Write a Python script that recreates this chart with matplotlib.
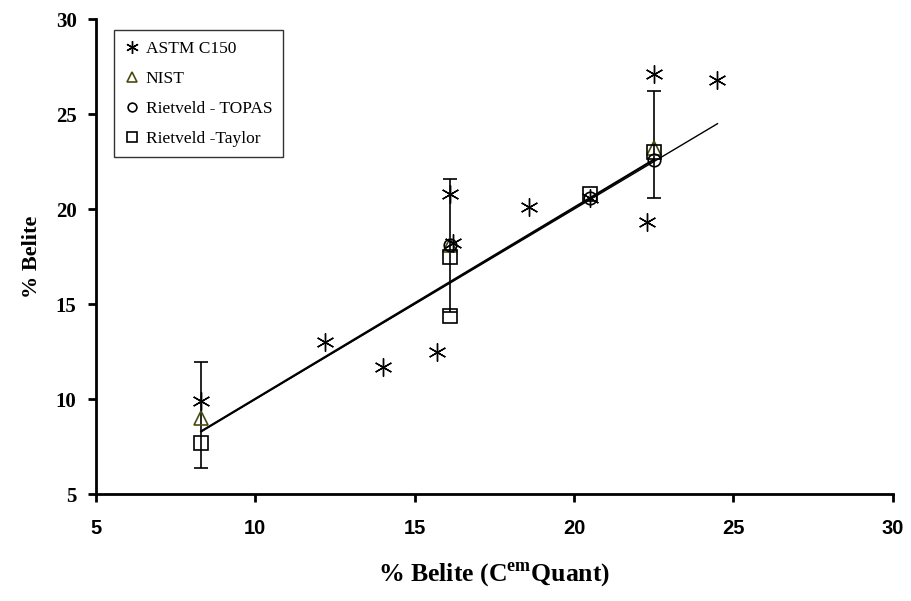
import matplotlib
matplotlib.use("Agg")
import matplotlib.pyplot as plt
import numpy as np

# ASTM C150 (Bogue) estimates
astm_x = [8.3, 12.2, 14.0, 15.7, 16.2, 16.1, 18.6, 20.5, 22.3, 22.5, 24.5]
astm_y = [9.9, 13.0, 11.7, 12.5, 18.2, 20.8, 20.1, 20.6, 19.3, 27.1, 26.8]

# NIST values
nist_x = [8.3, 16.1, 22.5]
nist_y = [9.0, 18.1, 23.2]

# Rietveld - TOPAS
topas_x = [16.1, 20.5, 22.5]
topas_y = [18.1, 20.6, 22.6]

# Rietveld - Taylor
taylor_x = [8.3, 16.1, 16.1, 20.5, 22.5]
taylor_y = [7.7, 17.5, 14.4, 20.8, 23.0]

# error bars
err_x = [8.3, 16.1, 22.5]
err_y = [9.15, 18.1, 23.4]
err_d = [2.8, 3.5, 2.8]

# trend lines
fit1_x = [8.3, 22.5]
fit1_y = [8.3, 22.6]
fit2_x = [8.3, 24.5]
fit2_y = [8.3, 24.5]

serif = ['Liberation Serif', 'DejaVu Serif']
narrow = ['Liberation Sans Narrow', 'Liberation Sans', 'DejaVu Sans']

plt.rcParams['mathtext.fontset'] = 'custom'
plt.rcParams['mathtext.rm'] = 'Liberation Serif:bold'
plt.rcParams['mathtext.bf'] = 'Liberation Serif:bold'

fig = plt.figure(figsize=(9.11, 6.01), dpi=100)
ax = fig.add_axes([0.1054, 0.178, 0.8746, 0.79])

ax.plot(fit1_x, fit1_y, color='black', lw=1.6, zorder=2)
ax.plot(fit2_x, fit2_y, color='black', lw=1.0, zorder=2)
ax.errorbar(err_x, err_y, yerr=err_d, fmt='none', ecolor='black',
            elinewidth=1.2, capsize=5, capthick=1.2, zorder=3)

ax.plot(astm_x, astm_y, ls='none', marker=(6, 2, 0), ms=13, mew=1.0,
        color='black', label='ASTM C150', zorder=5)
ax.plot(nist_x, nist_y, ls='none', marker='^', ms=10, mew=1.2,
        mfc='none', mec='#4a4a10', label='NIST', zorder=4)
ax.plot(topas_x, topas_y, ls='none', marker='o', ms=9, mew=1.2,
        mfc='none', mec='black', label='Rietveld - TOPAS', zorder=4)
ax.plot(taylor_x, taylor_y, ls='none', marker='s', ms=10, mew=1.2,
        mfc='none', mec='black', label='Rietveld -Taylor', zorder=4)

ax.set_xlim(5, 30)
ax.set_ylim(5, 30)
ax.set_xticks(np.arange(5, 31, 5))
ax.set_yticks(np.arange(5, 31, 5))
for s in ['top', 'right']:
    ax.spines[s].set_visible(False)
for s in ['left', 'bottom']:
    ax.spines[s].set_linewidth(2)
ax.tick_params(direction='out', length=6, width=2, pad=12)
ax.tick_params(axis='y', pad=8)

for t in ax.get_xticklabels():
    t.set_fontfamily(narrow)
    t.set_fontweight('bold')
    t.set_fontsize(14.5)
for t in ax.get_yticklabels():
    t.set_fontfamily(serif)
    t.set_fontweight('bold')
    t.set_fontsize(15)

ax.set_ylabel('% Belite', fontfamily=serif, fontweight='bold', fontsize=16, labelpad=10)
ax.set_xlabel('% Belite (C$^{\\mathbf{em}}$Quant)', fontfamily=serif,
              fontweight='bold', fontsize=18.5, labelpad=16)

leg = ax.legend(loc='upper left', bbox_to_anchor=(0.012, 0.995), frameon=True,
                fancybox=False, edgecolor='black', handlelength=0.8,
                handletextpad=0.4, labelspacing=0.8, borderpad=0.6,
                prop={'family': serif, 'size': 12.5}, markerscale=0.7)
leg.get_frame().set_linewidth(1.0)

fig.savefig('out.png', dpi=100)
